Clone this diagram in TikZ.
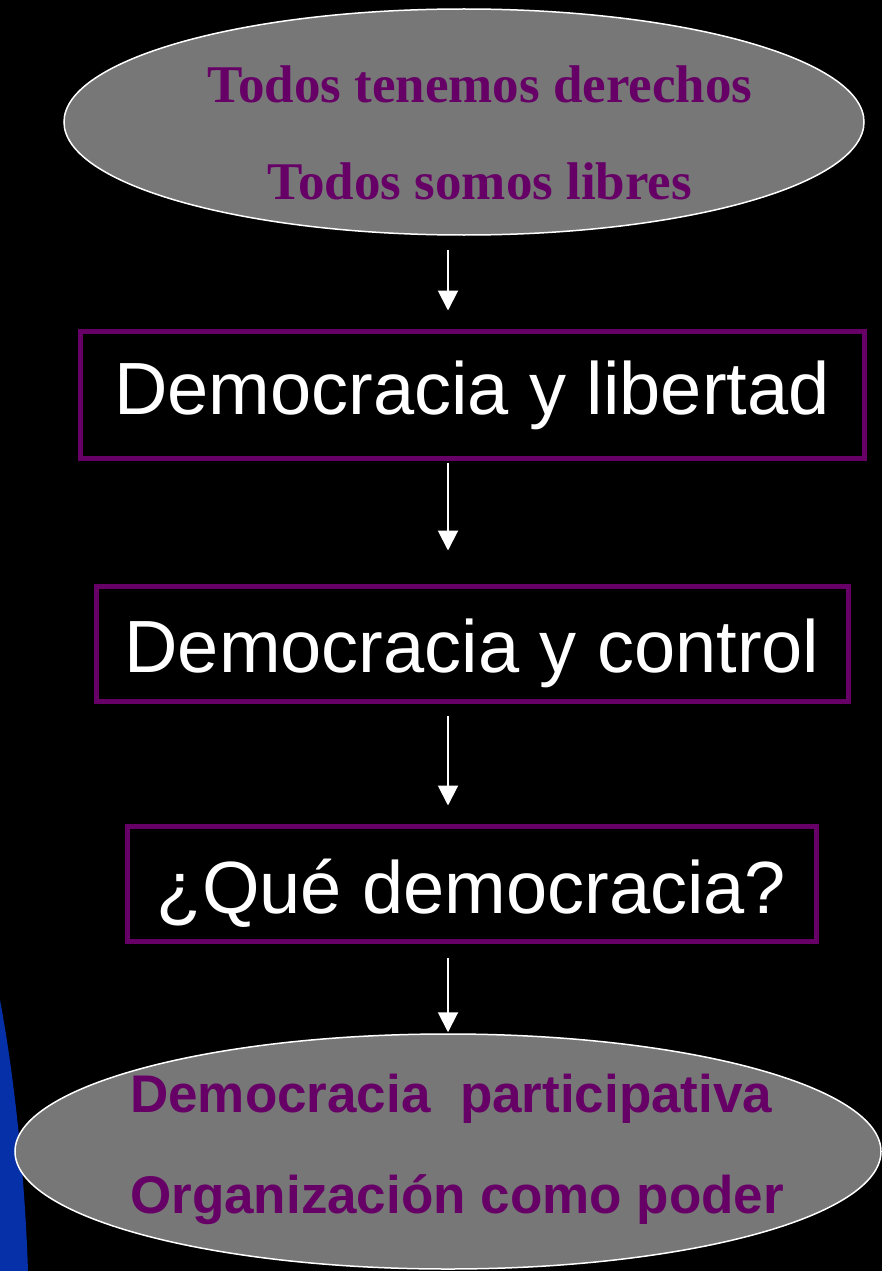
\documentclass[tikz,border=0pt]{standalone}
\usepackage{fontspec}
\usetikzlibrary{shapes.geometric,arrows.meta}
\newfontfamily\arialfont{Liberation Sans}
\newfontfamily\timesfont{Liberation Serif}
\definecolor{ppurple}{HTML}{660066}
\definecolor{pgray}{HTML}{777777}
\definecolor{pblue}{HTML}{0530A8}

\begin{document}
\begin{tikzpicture}[x=1pt, y=-1pt,
  oval/.style={ellipse, draw=white, fill=pgray, line width=1.5pt, inner sep=0pt},
  box/.style={draw=ppurple, line width=5pt, text=white, inner sep=0pt,
    font=\arialfont\fontsize{74}{80}\selectfont},
  serifline/.style={text=ppurple, anchor=base, inner sep=0pt,
    font=\timesfont\bfseries\fontsize{53}{60}\selectfont},
  sansline/.style={text=ppurple, anchor=base west, inner sep=0pt,
    font=\arialfont\bfseries\fontsize{53}{60}\selectfont},
  flow/.style={white, line width=2pt, -{Triangle[width=20pt,length=20pt]}}]
\useasboundingbox (0,0) rectangle (882,1271);
\fill [black] (0,0) rectangle (882,1271);
% blue band at the lower left
\fill [pblue] (0,1000) .. controls (15,1080) and (25,1180) .. (28,1271)
    -- (0,1271) -- cycle;

\node [oval, minimum width=800pt, minimum height=226pt] (derechos) at (464,122) {};
\node [serifline] (derechos1) at (480,103) {Todos tenemos derechos};
\node [serifline] (derechos2) at (480,199) {Todos somos libres};

\node [box, minimum width=784pt, minimum height=127pt,
    text height=39pt, text depth=0pt] (libertad) at (472,394.5)
    {Democracia y libertad};
\node [box, minimum width=752pt, minimum height=115pt,
    text height=57pt, text depth=0pt] (control) at (472,643.5)
    {Democracia y control};
\node [box, minimum width=689pt, minimum height=115pt,
    text height=59pt, text depth=0pt] (quedemo) at (471.5,883.5)
    {¿Qué democracia?};

\node [oval, minimum width=866pt, minimum height=235pt] (participa) at (448,1151.5) {};
\node [sansline] (participa1) at (130,1112) {Democracia\ \ participativa};
\node [sansline] (participa2) at (130,1213) {Organización como poder};

\coordinate (axis) at (448,0);
\draw [flow, shorten <=14pt, shorten >=18pt]
    (derechos.south -| axis) -- (libertad.north -| axis);
\draw [flow, shorten <=2pt, shorten >=33pt]
    (libertad.south -| axis) -- (control.north -| axis);
\draw [flow, shorten <=12pt, shorten >=18pt]
    (control.south -| axis) -- (quedemo.north -| axis);
\draw [flow, shorten <=14pt, shorten >=1pt]
    (quedemo.south -| axis) -- (participa.north -| axis);
\end{tikzpicture}
\end{document}
